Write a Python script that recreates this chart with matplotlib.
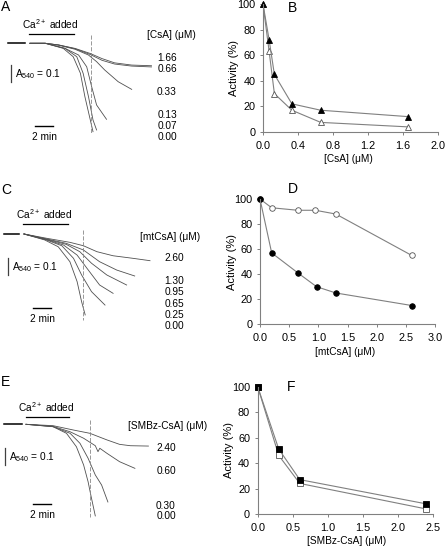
import numpy as np
import matplotlib
matplotlib.use("Agg")
import matplotlib.pyplot as plt

plt.rcParams['font.family'] = ['Liberation Sans', 'DejaVu Sans']
plt.rcParams['font.size'] = 7
plt.rcParams['mathtext.fontset'] = 'custom'
plt.rcParams['mathtext.rm'] = 'Liberation Sans'

W, H = 447, 547

# ---- trace data (time in min after start, change in A540) ----
csa_conc = ['1.66', '0.66', '0.33', '0.13', '0.07', '0.00']
csa_t = [
    [0, 1.7, 3.2, 5.0, 6.7, 8.0, 9.4, 11.3, 13.5],
    [0, 1.7, 3.2, 5.0, 6.7, 8.0, 9.4, 11.3, 13.5],
    [0, 1.7, 3.1, 5.0, 6.5, 7.4, 8.3, 9.8, 11.3],
    [0, 1.7, 3.9, 5.4, 6.3, 6.85, 7.4, 8.5],
    [0, 1.7, 3.9, 5.2, 5.9, 6.5, 7.0, 7.4],
    [0, 1.7, 3.7, 4.8, 5.6, 6.1, 6.7, 7.0],
]
csa_a = [
    [0, 0, -0.01, -0.03, -0.06, -0.09, -0.115, -0.128, -0.132],
    [0, 0, -0.01, -0.032, -0.066, -0.10, -0.122, -0.134, -0.139],
    [0, 0, -0.01, -0.035, -0.069, -0.108, -0.157, -0.226, -0.271],
    [0, 0, -0.03, -0.069, -0.138, -0.255, -0.363, -0.447],
    [0, 0, -0.03, -0.079, -0.176, -0.314, -0.451, -0.51],
    [0, 0, -0.03, -0.079, -0.176, -0.314, -0.451, -0.52],
]

mt_conc = ['2.60', '1.30', '0.95', '0.65', '0.25', '0.00']
mt_t = [
    [0, 2.5, 5.1, 6.6, 8.1, 9.9, 12.1, 14.0],
    [0, 2.5, 4.7, 6.6, 8.4, 10.3, 12.3],
    [0, 2.5, 4.7, 6.2, 7.5, 9.2, 11.4],
    [0, 2.5, 4.4, 5.9, 7.0, 8.4, 9.9],
    [0, 2.5, 4.2, 5.5, 6.4, 7.5, 9.0],
    [0, 2.3, 3.8, 5.1, 5.9, 6.4, 6.8],
]
mt_a = [
    [0, -0.025, -0.049, -0.069, -0.104, -0.128, -0.143, -0.157],
    [0, -0.029, -0.055, -0.094, -0.163, -0.212, -0.247],
    [0, -0.031, -0.061, -0.104, -0.172, -0.241, -0.30],
    [0, -0.033, -0.065, -0.124, -0.202, -0.30, -0.349],
    [0, -0.035, -0.069, -0.143, -0.241, -0.339, -0.418],
    [0, -0.035, -0.075, -0.163, -0.28, -0.398, -0.476],
]

smbz_conc = ['2.40', '0.60', '0.30', '0.00']
smbz_t = [
    [0, 3.0, 5.3, 7.1, 9.0, 10.4, 11.6, 13.6],
    [0, 3.0, 4.9, 6.4, 7.7, 8.0, 8.2, 9.0, 10.4, 12.1],
    [0, 3.0, 4.9, 6.0, 6.9, 7.7, 8.4, 9.1],
    [0, 3.0, 4.5, 5.6, 6.4, 6.9, 7.2, 7.7],
]
smbz_a = [
    [0, -0.008, -0.034, -0.053, -0.092, -0.118, -0.126, -0.128],
    [0, -0.012, -0.044, -0.082, -0.126, -0.161, -0.141, -0.171, -0.22, -0.259],
    [0, -0.014, -0.053, -0.112, -0.2, -0.298, -0.357, -0.457],
    [0, -0.014, -0.053, -0.132, -0.239, -0.338, -0.416, -0.539],
]

# ---- activity data ----
csa_x = [0, 0.07, 0.13, 0.33, 0.66, 1.66]
csa_filled = [100, 72, 45, 22, 17, 12]
csa_open = [100, 63, 30, 17, 7.5, 4]

mt_x_open = [0, 0.2, 0.65, 0.95, 1.3, 2.6]
mt_open = [100, 93, 91, 91, 88, 55]
mt_x_filled = [0, 0.2, 0.65, 0.97, 1.3, 2.6]
mt_filled = [100, 57, 41, 30, 25, 15]

smbz_x = [0, 0.3, 0.6, 2.4]
smbz_filled = [100, 51, 27, 8]
smbz_open = [100, 46, 24, 4]

PX_MIN = 9.0     # pixels per minute
PX_A = 170.0     # pixels per absorbance unit

fig = plt.figure(figsize=(W / 100, H / 100), dpi=100)


def ftext(x, y, s, **kw):
    fig.text(x / W, 1 - y / H, s, **kw)


def trace_panel(top, bottom, x0, y0, ts, As, concs, spec):
    ax = fig.add_axes([0, 1 - bottom / H, 220 / W, (bottom - top) / H])
    ax.set_xlim((0 - x0) / PX_MIN, (220 - x0) / PX_MIN)
    ax.set_ylim((y0 - bottom) / PX_A, (y0 - top) / PX_A)
    ax.axis('off')

    def dx(px):
        return (px - x0) / PX_MIN

    def dy(py):
        return (y0 - py) / PX_A

    for t, a in zip(ts, As):
        ax.plot(t, a, color='#505050', lw=0.6)
    # baseline before addition
    ax.plot([dx(spec['base'][0]), dx(spec['base'][1])], [0, 0], color='black', lw=1.1)
    # Ca2+ bar
    cx0, cx1, cy = spec['ca']
    ax.plot([dx(cx0), dx(cx1)], [dy(cy), dy(cy)], color='black', lw=0.9)
    ftext((cx0 + cx1) / 2 - 1, cy - 3, 'Ca$^{2+}$ added', ha='center', va='bottom', fontsize=7.3)
    # dashed time marker
    vx, vy0, vy1 = spec['dash']
    ax.plot([dx(vx), dx(vx)], [dy(vy0), dy(vy1)], color='#888888', lw=0.6, ls=(0, (5, 2)))
    # scale bars
    bx, by = spec['abar']
    ax.plot([dx(bx), dx(bx)], [dy(by), dy(by) - 0.1], color='#404040', lw=0.9)
    ftext(bx + 4, by + 9, 'A$_{540}$ = 0.1', ha='left', va='center', fontsize=7.3)
    tx, ty = spec['tbar']
    ax.plot([dx(tx), dx(tx) + 2], [dy(ty), dy(ty)], color='black', lw=1.0)
    ftext(tx + 9, ty + 11, '2 min', ha='center', va='center', fontsize=7.3)
    # concentration labels
    hx, hy = spec['head']
    ftext(hx, hy, spec['title'], ha='left', va='center', fontsize=7.3)
    for c, ly in zip(concs, spec['ys']):
        ftext(spec['vx'], ly, c, ha='center', va='center', fontsize=7.3)
    lx, ly = spec['letter']
    ftext(lx, ly, spec['name'], ha='left', va='center', fontsize=10)


trace_panel(0, 180, 30, 43.3, csa_t, csa_a, csa_conc, dict(
    base=(8, 25), ca=(29, 74, 34), dash=(90.7, 35, 133), abar=(10.7, 65),
    tbar=(35, 126), head=(147, 35), title='[CsA] (\u03bcM)', vx=167,
    ys=[58, 69, 92, 115, 126, 137], letter=(1, 7), name='A'))

trace_panel(180, 360, 24, 234, mt_t, mt_a, mt_conc, dict(
    base=(4, 19), ca=(23, 68, 224), dash=(83, 230, 320), abar=(8, 258),
    tbar=(33, 308), head=(140, 237), title='[mtCsA] (\u03bcM)', vx=174,
    ys=[258, 281, 292, 304, 315, 326], letter=(1, 190), name='C'))

trace_panel(360, 547, 26, 424.3, smbz_t, smbz_a, smbz_conc, dict(
    base=(4, 22), ca=(26, 69, 417), dash=(90, 420, 517), abar=(5, 448),
    tbar=(33, 504), head=(128, 426), title='[SMBz-CsA] (\u03bcM)', vx=166,
    ys=[448, 471, 506, 516], letter=(1, 382), name='E'))


def activity_panel(left, top, right, bottom, xmax, xstep, fmt):
    ax = fig.add_axes([left / W, 1 - bottom / H, (right - left) / W, (bottom - top) / H])
    ax.set_xlim(0, xmax)
    ax.set_ylim(0, 100)
    ax.set_xticks(np.arange(0, xmax + xstep / 2, xstep))
    ax.set_xticklabels([fmt % v for v in np.arange(0, xmax + xstep / 2, xstep)])
    ax.set_yticks(range(0, 101, 20))
    for s in ['top', 'right']:
        ax.spines[s].set_visible(False)
    for s in ['left', 'bottom']:
        ax.spines[s].set_color('#808080')
        ax.spines[s].set_linewidth(0.8)
    ax.tick_params(length=2.5, width=0.7, color='#808080', labelsize=7.8)
    ax.tick_params(axis='x', pad=4)
    ax.tick_params(axis='y', pad=3)
    ax.patch.set_visible(False)
    return ax


line_kw = dict(color='#808080', lw=0.8, markersize=4, markeredgewidth=0.6, clip_on=False)

# B
axB = activity_panel(263, 4, 438, 132, 2.0, 0.4, '%.1f')
axB.plot(csa_x, csa_open, marker='^', mfc='white', mec='#555555', **line_kw)
axB.plot(csa_x, csa_filled, marker='^', mfc='black', mec='black', **line_kw)
ftext(348, 159, '[CsA] (\u03bcM)', ha='center', va='center', fontsize=7.3)
ftext(234, 68, 'Activity (%)', ha='center', va='center', rotation=90, fontsize=8)
ftext(288, 8, 'B', ha='left', va='center', fontsize=10)

# D
axD = activity_panel(260, 199, 435, 324.3, 3.0, 0.5, '%.1f')
axD.plot(mt_x_open, mt_open, marker='o', mfc='white', mec='#555555', **line_kw)
axD.plot(mt_x_filled, mt_filled, marker='o', mfc='black', mec='black', **line_kw)
ftext(345, 352, '[mtCsA] (\u03bcM)', ha='center', va='center', fontsize=7.3)
ftext(231.5, 262, 'Activity (%)', ha='center', va='center', rotation=90, fontsize=8)
ftext(288, 189, 'D', ha='left', va='center', fontsize=10)

# F
axF = activity_panel(257.7, 386.7, 433, 514, 2.5, 0.5, '%.1f')
axF.plot(smbz_x, smbz_open, marker='s', mfc='white', mec='#555555', **line_kw)
axF.plot(smbz_x, smbz_filled, marker='s', mfc='black', mec='black', **line_kw)
ftext(347, 541, '[SMBz-CsA] (\u03bcM)', ha='center', va='center', fontsize=7.3)
ftext(229, 450, 'Activity (%)', ha='center', va='center', rotation=90, fontsize=8)
ftext(287, 387, 'F', ha='left', va='center', fontsize=10)

fig.savefig('out.png', dpi=100)
